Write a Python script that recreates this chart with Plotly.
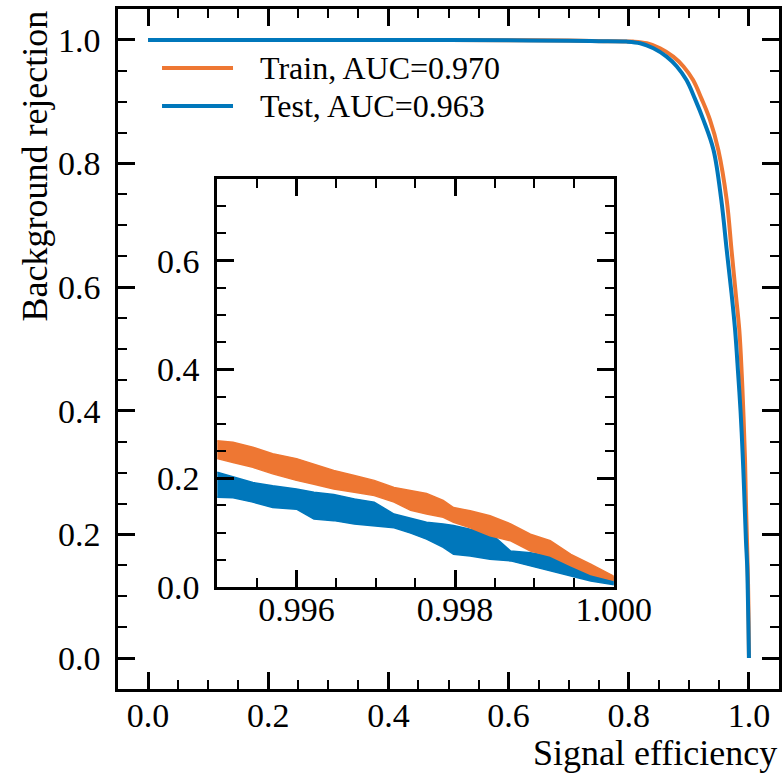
import plotly.graph_objects as go

# ---------------- data ----------------
train_eff = [0.0, 0.2, 0.4, 0.5, 0.6, 0.7, 0.76, 0.807, 0.830, 0.852, 0.874, 0.891, 0.907,
             0.921, 0.935, 0.949, 0.963, 0.971, 0.978, 0.984, 0.988, 0.991, 0.9935, 0.995,
             0.997, 0.9985, 0.9995, 1.0]
train_rej = [1.0, 1.0, 1.0, 0.9999, 0.9996, 0.999, 0.998, 0.9973, 0.9946, 0.9865, 0.973, 0.957,
             0.935, 0.905, 0.871, 0.822, 0.741, 0.660, 0.590, 0.530, 0.460, 0.390, 0.320, 0.250,
             0.180, 0.120, 0.055, 0.0]

test_eff = [0.0, 0.2, 0.4, 0.5, 0.6, 0.7, 0.75, 0.796, 0.819, 0.841, 0.863, 0.880, 0.896, 0.910,
            0.924, 0.941, 0.954, 0.963, 0.971, 0.977, 0.982, 0.986, 0.9895, 0.992, 0.995, 0.997,
            0.998, 0.999, 1.0]
test_rej = [1.0, 1.0, 1.0, 0.9998, 0.9993, 0.9985, 0.998, 0.9973, 0.9946, 0.9865, 0.973, 0.957,
            0.935, 0.905, 0.871, 0.822, 0.741, 0.660, 0.590, 0.530, 0.460, 0.400, 0.330, 0.270,
            0.190, 0.150, 0.110, 0.060, 0.0]

# inset: envelope of the (rapidly fluctuating) curves near efficiency = 1
inset_eff = [0.9950, 0.9952, 0.99545, 0.9957, 0.9960, 0.99622, 0.99647, 0.99673, 0.99698,
             0.99723, 0.99744, 0.99764, 0.99785, 0.99798, 0.99819, 0.99844, 0.9987, 0.99895,
             0.9992, 0.99946, 0.99971, 1.0]
train_hi = [0.269, 0.266, 0.257, 0.245, 0.236, 0.226, 0.214, 0.205, 0.196, 0.183, 0.177, 0.172,
            0.159, 0.146, 0.140, 0.131, 0.116, 0.097, 0.085, 0.060, 0.042, 0.020]
train_lo = [0.236, 0.229, 0.220, 0.208, 0.196, 0.189, 0.180, 0.174, 0.168, 0.156, 0.141, 0.134,
            0.128, 0.119, 0.109, 0.094, 0.085, 0.066, 0.057, 0.039, 0.023, 0.012]
test_hi = [0.211, 0.202, 0.192, 0.186, 0.180, 0.174, 0.170, 0.162, 0.156, 0.134, 0.126, 0.119,
           0.116, 0.113, 0.106, 0.100, 0.066, 0.063, 0.057, 0.045, 0.033, 0.017]
test_lo = [0.165, 0.164, 0.156, 0.146, 0.143, 0.125, 0.122, 0.116, 0.113, 0.109, 0.099, 0.088,
           0.073, 0.060, 0.057, 0.051, 0.048, 0.039, 0.030, 0.020, 0.011, 0.004]

labels = ["Train, AUC=0.970", "Test, AUC=0.963"]
main_ticks = [0.0, 0.2, 0.4, 0.6, 0.8, 1.0]
main_ticktext = ["0.0", "0.2", "0.4", "0.6", "0.8", "1.0"]
inset_xticks = [0.996, 0.998, 1.0]
inset_xticktext = ["0.996", "0.998", "1.000"]
inset_yticks = [0.0, 0.2, 0.4, 0.6]
inset_yticktext = ["0.0", "0.2", "0.4", "0.6"]

ORANGE = "#EE7733"
BLUE = "#0077BB"
FONT = "Liberation Serif, Times New Roman, serif"

fig = go.Figure()

fig.add_trace(go.Scatter(x=train_eff, y=train_rej, mode="lines",
                         line=dict(color=ORANGE, width=4, shape="spline", smoothing=1.0),
                         showlegend=False))
fig.add_trace(go.Scatter(x=test_eff, y=test_rej, mode="lines",
                         line=dict(color=BLUE, width=4, shape="spline", smoothing=1.0),
                         showlegend=False))

fig.add_trace(go.Scatter(x=inset_eff + inset_eff[::-1], y=test_hi + test_lo[::-1],
                         mode="lines", fill="toself", fillcolor=BLUE,
                         line=dict(color=BLUE, width=1.5), xaxis="x2", yaxis="y2",
                         showlegend=False))
fig.add_trace(go.Scatter(x=inset_eff + inset_eff[::-1], y=train_hi + train_lo[::-1],
                         mode="lines", fill="toself", fillcolor=ORANGE,
                         line=dict(color=ORANGE, width=1.5), xaxis="x2", yaxis="y2",
                         showlegend=False))

common = dict(
    showline=True, linecolor="black", linewidth=2.5, mirror="allticks",
    ticks="inside", ticklen=17, tickwidth=2.5, tickcolor="black",
    showgrid=False, zeroline=False, automargin=False,
    tickfont=dict(family=FONT, size=34, color="black"),
)
minor_common = dict(ticks="inside", ticklen=9, tickwidth=2.2, tickcolor="black", showgrid=False)

fig.update_layout(
    template="none",
    width=782, height=774,
    margin=dict(l=118, r=3, t=9, b=85, autoexpand=False),
    paper_bgcolor="white", plot_bgcolor="white",
    font=dict(family=FONT, size=34, color="black"),
    showlegend=False,
    xaxis=dict(range=[-0.05, 1.05], tickvals=main_ticks, ticktext=main_ticktext,
               minor=dict(tick0=0, dtick=0.05, **minor_common),
               ticklabelstandoff=-6, **common),
    yaxis=dict(range=[-0.05, 1.05], tickvals=main_ticks, ticktext=main_ticktext,
               minor=dict(tick0=0, dtick=0.05, **minor_common),
               ticklabelstandoff=8, **common),
    xaxis2=dict(domain=[0.15, 0.75], anchor="y2", range=[0.995, 1.0],
                tickvals=inset_xticks, ticktext=inset_xticktext,
                minor=dict(tick0=0.995, dtick=0.0005, **minor_common),
                ticklabelstandoff=-10, **common),
    yaxis2=dict(domain=[0.15, 0.75], anchor="x2", range=[0.0, 0.75],
                tickvals=inset_yticks, ticktext=inset_yticktext,
                minor=dict(tick0=0, dtick=0.05, **minor_common),
                ticklabelstandoff=8, **common),
)

# legend (drawn manually to match the long line keys)
leg_y = [0.9132, 0.8574]
leg_col = [ORANGE, BLUE]
for yy, col, lab in zip(leg_y, leg_col, labels):
    fig.add_shape(type="line", xref="paper", yref="paper", x0=0.0666, x1=0.174, y0=yy, y1=yy,
                  line=dict(color=col, width=4))
    fig.add_annotation(xref="paper", yref="paper", x=0.2118, y=yy, xanchor="left",
                       yanchor="middle", text=lab, showarrow=False,
                       font=dict(family=FONT, size=32, color="black"))

fig.add_annotation(xref="paper", yref="paper", x=1.0, y=-0.094, xanchor="right",
                   yanchor="middle", text="Signal efficiency", showarrow=False,
                   font=dict(family=FONT, size=36, color="black"))
fig.add_annotation(xref="paper", yref="paper", x=-0.127, y=1.0, xanchor="center",
                   yanchor="top", text="Background rejection", textangle=-90,
                   showarrow=False, font=dict(family=FONT, size=36, color="black"))

fig.write_html("out.html")
